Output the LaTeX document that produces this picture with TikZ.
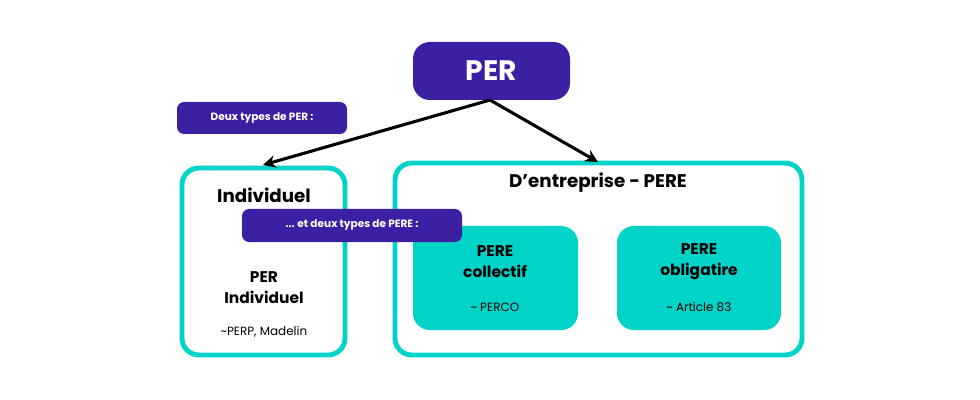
\documentclass[tikz,border=0pt]{standalone}
\usepackage{fontspec}
\setmainfont{Poppins}
\usetikzlibrary{arrows.meta}
\definecolor{purp}{HTML}{3D1FA3}
\definecolor{teal1}{HTML}{00D4C8}
\tikzset{
  px/.style={x=0.025cm,y=-0.025cm},
  purpbox/.style={fill=purp,rounded corners=6pt,text=white,font=\bfseries\fontsize{8}{10}\selectfont,inner sep=0pt},
  outerbox/.style={draw=teal1,line width=3.5pt,rounded corners=12pt,fill=white},
  innerbox/.style={fill=teal1,rounded corners=12pt},
  lbl/.style={font=\bfseries\fontsize{11}{15}\selectfont,align=center},
  sub/.style={font=\fontsize{8.5}{10}\selectfont},
  conn/.style={line width=2.2pt,-{Stealth[length=9pt,width=9pt]}}
}
\begin{document}
\begin{tikzpicture}[px]
\useasboundingbox[fill=white] (0,0) rectangle (980,400);
\draw[outerbox] (182,168) rectangle (345,355);
\draw[outerbox] (395,163) rectangle (802,355);
\fill[innerbox] (413,226) rectangle (578,330);
\fill[innerbox] (617,226) rectangle (781,330);
\fill[purp,rounded corners=12pt] (413,42) rectangle (570,100);
\node[text=white,font=\bfseries\fontsize{20}{24}\selectfont] (per) at (491,71) {PER};
\coordinate (src) at (490,100);
\coordinate (ltip) at (263,165);
\coordinate (rtip) at (598,162);
\draw[conn] (src) -- (ltip);
\draw[conn] (src) -- (rtip);
\fill[purp,rounded corners=5pt] (177,102) rectangle (347,134);
\node[text=white,font=\bfseries\fontsize{7.5}{9}\selectfont] (deux) at (262,118) {Deux types de PER :};
\node[font=\bfseries\fontsize{13}{16}\selectfont] (ind) at (264,195) {Individuel};
\node[font=\bfseries\fontsize{13}{16}\selectfont] (ent) at (598,183) {D’entreprise - PERE};
\fill[purp,rounded corners=5pt] (242,209) rectangle (462,242);
\node[text=white,font=\bfseries\fontsize{7.5}{9}\selectfont] (et) at (352,225) {... et deux types de PERE :};
\node[lbl] (peri) at (264,288) {PER\\Individuel};
\node[sub] (perp) at (264,332) {\textasciitilde PERP, Madelin};
\node[lbl] (pc) at (495,262) {PERE\\collectif};
\node[sub] (perco) at (495,307) {\textasciitilde\ PERCO};
\node[lbl] (po) at (699,262) {PERE\\obligatire};
\node[sub] (art) at (699,307) {\textasciitilde\ Article 83};
\end{tikzpicture}
\end{document}
